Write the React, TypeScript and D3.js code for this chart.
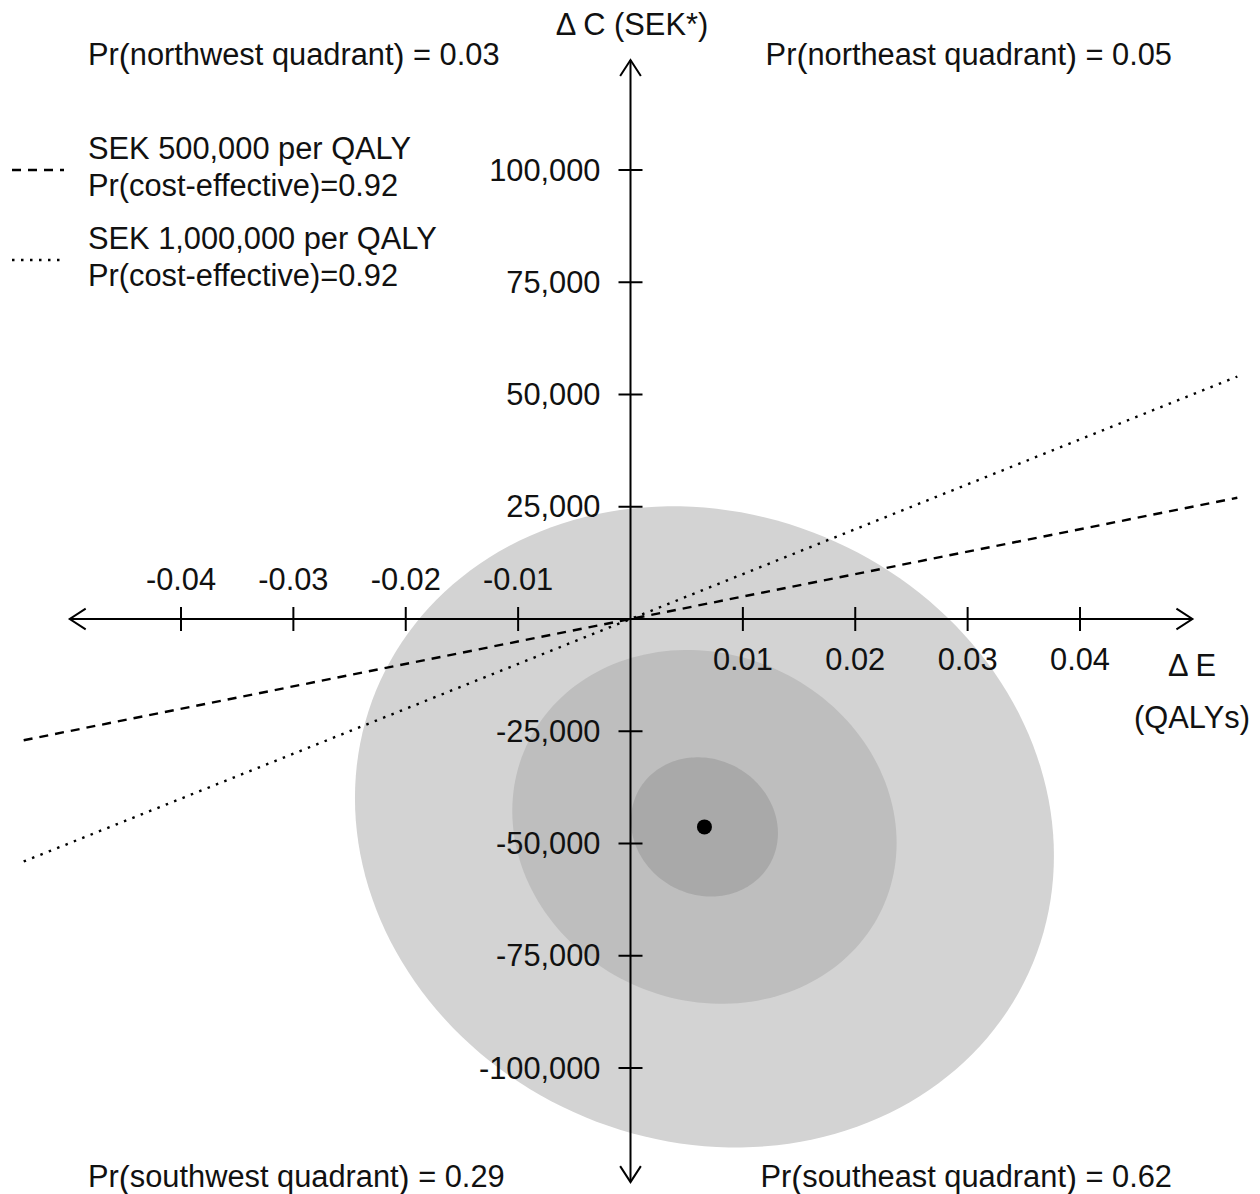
import React from "react";
import * as d3 from "d3";

// ---- data ----
const xTicks = [-0.04, -0.03, -0.02, -0.01, 0.01, 0.02, 0.03, 0.04];
const yTicks = [100000, 75000, 50000, 25000, -25000, -50000, -75000, -100000];
const centerE = 0.00658;
const centerC = -46300;
const ellipseHalfE = [0.0311, 0.0171, 0.00654];
const ellipseHalfC = [71400, 39400, 15500];
const ellipseRho = -0.09;
const ellipseColors = ["#d3d3d3", "#bebebe", "#a9a9a9"];
const wtpValues = [500000, 1000000];
const wtpLabels = ["SEK 500,000 per QALY", "SEK 1,000,000 per QALY"];
const wtpProb = ["Pr(cost-effective)=0.92", "Pr(cost-effective)=0.92"];
const wtpDash = ["9 7", "2.5 6.5"];
const quadrantLabels = [
  { name: "northwest", p: "0.03" },
  { name: "northeast", p: "0.05" },
  { name: "southwest", p: "0.29" },
  { name: "southeast", p: "0.62" },
];
const lineExtentE = [-0.054, 0.054];
const axisExtentE = [-0.0499, 0.0500];
const axisExtentC = [-125400, 124500];

const FONT = "'Liberation Sans', Arial, Helvetica, sans-serif";

export default function App() {
  const x = d3.scaleLinear().domain([-0.04, 0.04]).range([181, 1080]);
  const y = d3.scaleLinear().domain([-100000, 100000]).range([1068, 170]);
  const x0 = x(0);
  const y0 = y(0);

  const ellipsePath = (i: number) => {
    const pts: [number, number][] = d3.range(0, 361, 2).map((deg) => {
      const t = (deg * Math.PI) / 180;
      const e = centerE + ellipseHalfE[i] * Math.cos(t);
      const c =
        centerC +
        ellipseHalfC[i] *
          (ellipseRho * Math.cos(t) + Math.sqrt(1 - ellipseRho * ellipseRho) * Math.sin(t));
      return [x(e), y(c)];
    });
    return d3.line().curve(d3.curveLinearClosed)(pts) || "";
  };

  const arrow = (tx: number, ty: number, dx: number, dy: number) => {
    const len = 19;
    const ang = (33 * Math.PI) / 180;
    const base = Math.atan2(-dy, -dx);
    const a1 = [tx + len * Math.cos(base + ang), ty + len * Math.sin(base + ang)];
    const a2 = [tx + len * Math.cos(base - ang), ty + len * Math.sin(base - ang)];
    return `M${a1[0]},${a1[1]}L${tx},${ty}L${a2[0]},${a2[1]}`;
  };

  const xl = x(axisExtentE[0]);
  const xr = x(axisExtentE[1]);
  const yt = y(axisExtentC[1]);
  const yb = y(axisExtentC[0]);

  const fs = 30.8;
  const fmt = (v: number) => d3.format(",")(v).replace("\u2212", "-");
  const qLabel = (q: { name: string; p: string }) => (
    <>
      Pr
      <tspan fontSize={33} dy={1}>(</tspan>
      <tspan dy={-1}>{q.name} quadrant</tspan>
      <tspan fontSize={33} dy={1}>)</tspan>
      <tspan dy={-1}> = {q.p}</tspan>
    </>
  );

  return (
    <svg
      width={1260}
      height={1194}
      style={{ position: "absolute", left: 0, top: 0, background: "#fff" }}
      fontFamily={FONT}
    >
      <rect x={0} y={0} width={1260} height={1194} fill="#fff" />
      {ellipseColors.map((col, i) => (
        <path key={i} d={ellipsePath(i)} fill={col} />
      ))}
      <circle cx={x(centerE)} cy={y(centerC)} r={7.5} fill="#000" />

      {wtpValues.map((w, i) => (
        <line
          key={i}
          x1={x(lineExtentE[0])}
          y1={y(lineExtentE[0] * w)}
          x2={x(lineExtentE[1])}
          y2={y(lineExtentE[1] * w)}
          stroke="#000"
          strokeWidth={2.4}
          strokeDasharray={wtpDash[i]}
        />
      ))}

      <line x1={xl} y1={y0} x2={xr} y2={y0} stroke="#000" strokeWidth={2} />
      <line x1={x0} y1={yt} x2={x0} y2={yb} stroke="#000" strokeWidth={2} />
      <path d={arrow(xr, y0, 1, 0)} fill="none" stroke="#000" strokeWidth={2} />
      <path d={arrow(xl, y0, -1, 0)} fill="none" stroke="#000" strokeWidth={2} />
      <path d={arrow(x0, yt, 0, -1)} fill="none" stroke="#000" strokeWidth={2} />
      <path d={arrow(x0, yb, 0, 1)} fill="none" stroke="#000" strokeWidth={2} />

      {xTicks.map((t) => (
        <g key={t}>
          <line x1={x(t)} x2={x(t)} y1={y0 - 12} y2={y0 + 12} stroke="#000" strokeWidth={2} />
          <text
            x={x(t)}
            y={t < 0 ? y0 - 40 : y0 + 40}
            textAnchor="middle"
            dominantBaseline="central"
            fontSize={fs}
            fill="#111"
          >
            {t.toFixed(2)}
          </text>
        </g>
      ))}
      {yTicks.map((t) => (
        <g key={t}>
          <line x1={x0 - 12} x2={x0 + 12} y1={y(t)} y2={y(t)} stroke="#000" strokeWidth={2} />
          <text
            x={x0 - 30}
            y={y(t)}
            textAnchor="end"
            dominantBaseline="central"
            fontSize={fs}
            fill="#111"
          >
            {fmt(t)}
          </text>
        </g>
      ))}

      <text x={632} y={24} textAnchor="middle" dominantBaseline="central" fontSize={fs} fill="#111">
        Δ C (SEK*)
      </text>
      <text x={1192} y={665} textAnchor="middle" dominantBaseline="central" fontSize={fs} fill="#111">
        Δ E
      </text>
      <text x={1192} y={717} textAnchor="middle" dominantBaseline="central" fontSize={fs} fill="#111">
        (QALYs)
      </text>

      <text x={88} y={54} dominantBaseline="central" fontSize={fs} fill="#111">
        {qLabel(quadrantLabels[0])}
      </text>
      <text x={1172} y={54} textAnchor="end" dominantBaseline="central" fontSize={fs} fill="#111">
        {qLabel(quadrantLabels[1])}
      </text>
      <text x={88} y={1176} dominantBaseline="central" fontSize={fs} fill="#111">
        {qLabel(quadrantLabels[2])}
      </text>
      <text x={1172} y={1176} textAnchor="end" dominantBaseline="central" fontSize={fs} fill="#111">
        {qLabel(quadrantLabels[3])}
      </text>

      {wtpLabels.map((lab, i) => {
        const cy = 170 + i * 90;
        return (
          <g key={i}>
            <line x1={12} x2={64} y1={cy} y2={cy} stroke="#000" strokeWidth={2.4} strokeDasharray={wtpDash[i]} />
            <text x={88} y={cy - 22} dominantBaseline="central" fontSize={fs} fill="#111">
              {lab}
            </text>
            <text x={88} y={cy + 15} dominantBaseline="central" fontSize={fs} fill="#111">
              {wtpProb[i]}
            </text>
          </g>
        );
      })}
    </svg>
  );
}
